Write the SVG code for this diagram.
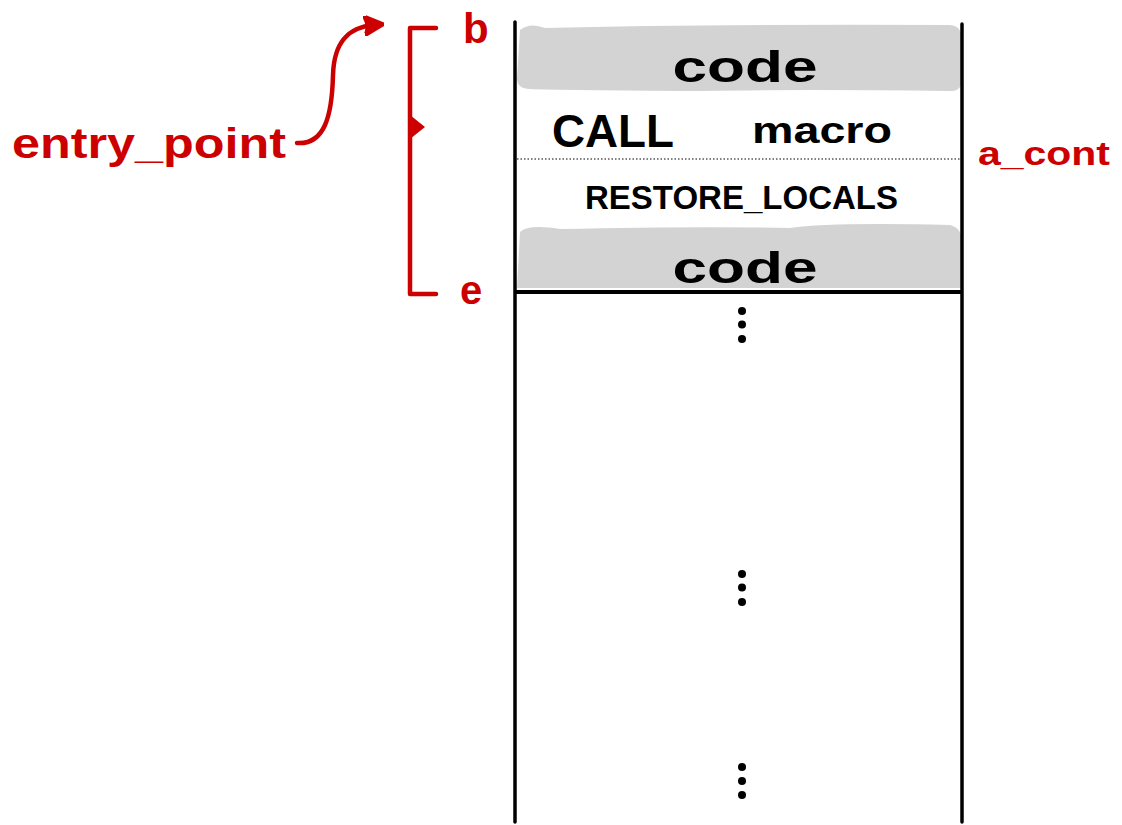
<svg xmlns="http://www.w3.org/2000/svg" width="1122" height="825" viewBox="0 0 1122 825">
  <style>
    .ink { fill: #000; font-family: "Liberation Sans", Arial, sans-serif; font-weight: bold; }
    .red { fill: #cc0000; font-family: "Liberation Sans", Arial, sans-serif; font-weight: bold; }
    .band { fill: #d3d3d3; }
    .wall { stroke: #000; stroke-width: 3.5; fill: none; stroke-linecap: round; }
    .bracket { stroke: #cc0000; stroke-width: 4.5; fill: none; stroke-linecap: round; stroke-linejoin: round; }
  </style>
  <defs>
    <marker id="head" viewBox="0 0 10 10" refX="5" refY="5" markerWidth="4.5" markerHeight="4.5" orient="auto">
      <path d="M0,0 L10,5 L0,10 Q3,5 0,0 Z" fill="#cc0000" stroke="#cc0000" stroke-width="1.5" stroke-linejoin="round"/>
    </marker>
  </defs>
  <rect width="1122" height="825" fill="#fff"/>

  <!-- memory block -->
  <g id="block">
    <path class="band" d="M520,30 Q530,22 545,28 Q700,24 950,25 Q962,26 962,40 L962,80 Q962,92 948,91 Q800,89 700,91 Q560,90 530,89 Q517,89 517,78 Z"/>
    <path class="band" d="M520,232 Q528,224 560,229 Q700,226 790,228 Q830,222 950,225 Q963,228 962,245 L962,288 L517,288 Z"/>
    <line class="wall" x1="515" y1="22" x2="515" y2="822"/>
    <line class="wall" x1="962" y1="24" x2="962" y2="822"/>
    <line x1="517" y1="159" x2="960" y2="159" stroke="#000" stroke-width="1.2" stroke-dasharray="1.5,2"/>
    <line x1="515" y1="292" x2="962" y2="292" stroke="#000" stroke-width="4"/>
  </g>

  <g id="code-top">
    <text class="ink" x="745" y="82" font-size="44" text-anchor="middle" textLength="145" lengthAdjust="spacingAndGlyphs">code</text>
  </g>
  <g id="call">
    <text class="ink" x="552" y="147" font-size="46" textLength="122" lengthAdjust="spacingAndGlyphs">CALL</text>
    <text class="ink" x="752" y="143" font-size="36" textLength="140" lengthAdjust="spacingAndGlyphs">macro</text>
  </g>
  <g id="restore">
    <text class="ink" x="585" y="209" font-size="33" textLength="313" lengthAdjust="spacingAndGlyphs">RESTORE_LOCALS</text>
  </g>
  <g id="code-bottom">
    <text class="ink" x="745" y="283" font-size="44" text-anchor="middle" textLength="145" lengthAdjust="spacingAndGlyphs">code</text>
  </g>

  <g id="ellipses" fill="#000">
    <circle cx="742" cy="311" r="4"/><circle cx="742" cy="324.5" r="4"/><circle cx="742" cy="339" r="4"/>
    <circle cx="742" cy="574" r="4"/><circle cx="742" cy="587.5" r="4"/><circle cx="742" cy="602" r="4"/>
    <circle cx="742" cy="767" r="4"/><circle cx="742" cy="781" r="4"/><circle cx="742" cy="795" r="4"/>
  </g>

  <!-- range bracket -->
  <g id="range">
    <path class="bracket" d="M436,28 L410,28 L410,294 L436,294"/>
    <path d="M410,115 L425,127 L410,139 Z" fill="#cc0000"/>
    <text class="red" x="463" y="43" font-size="42">b</text>
    <text class="red" x="460" y="304" font-size="40">e</text>
  </g>

  <g id="a-cont">
    <text class="red" x="978" y="165" font-size="34" textLength="132" lengthAdjust="spacingAndGlyphs">a_cont</text>
  </g>

  <g id="entry">
    <text class="red" x="12" y="158" font-size="42" textLength="274" lengthAdjust="spacingAndGlyphs">entry_point</text>
  </g>

  <g id="connectors">
    <path class="bracket" d="M297,143 C325,145 332,115 333,75 C334,40 350,27 374,25" marker-end="url(#head)"/>
  </g>
</svg>
